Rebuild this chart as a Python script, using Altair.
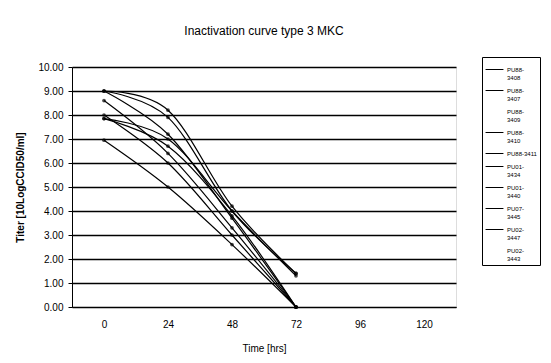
import altair as alt
import pandas as pd

times = [0, 24, 48, 72]
legend_names = ["PU88-3408", "PU88-3407", "PU88-3409", "PU88-3410", "PU88-3411",
                "PU01-3434", "PU01-3440", "PU07-3445", "PU02-3447", "PU02-3443"]
s3408 = [9.0, 7.9, 4.0, 1.4]
s3407 = [9.0, 7.2, 3.7, 0.0]
s3410 = [8.6, 6.4, 3.3, 0.0]
s3411 = [7.85, 7.0, 4.0, 1.3]
s3434 = [6.95, 5.0, 2.6, 0.0]
s3440 = [8.0, 6.0, 3.0, 0.0]
s3445 = [9.0, 8.2, 4.2, 1.4]
s3447 = [7.85, 6.7, 3.8, 0.0]

series = {
    "PU88-3408": s3408, "PU88-3407": s3407, "PU88-3410": s3410, "PU88-3411": s3411,
    "PU01-3434": s3434, "PU01-3440": s3440, "PU07-3445": s3445, "PU02-3447": s3447,
}
rows = []
for name, vals in series.items():
    for t, v in zip(times, vals):
        rows.append({"series": name, "time": t, "titer": v})
df = pd.DataFrame(rows)

colors = ["black" if n in series else "transparent" for n in legend_names]

x = alt.X("time:Q", scale=alt.Scale(domain=[-12, 132], nice=False, zero=False),
          axis=alt.Axis(values=[0, 24, 48, 72, 96, 120], title="Time [hrs]", grid=False,
                        ticks=False, labelFontSize=10, titleFontSize=10, titleFontWeight="normal",
                        labelPadding=12, titlePadding=14, domainColor="black"))
y = alt.Y("titer:Q", scale=alt.Scale(domain=[0, 10], nice=False),
          axis=alt.Axis(values=list(range(0, 11)), format=".2f", title="Titer [10LogCCID50/ml]",
                        grid=True, gridColor="black", gridWidth=1.5, gridOpacity=1,
                        tickSize=4, tickColor="black", labelFontSize=10, titleFontSize=10,
                        titleFontWeight="bold", labelPadding=5, titlePadding=12, domainColor="black"))

lines = alt.Chart(df).mark_line(interpolate="cardinal", strokeWidth=1.2).encode(
    x=x, y=y,
    color=alt.Color("series:N", scale=alt.Scale(domain=legend_names, range=colors),
                    legend=alt.Legend(title=None, orient="none", legendX=410, legendY=-10,
                                      symbolType="stroke", symbolSize=320, symbolStrokeWidth=1,
                                      labelFontSize=6, labelLimit=40, rowPadding=0,
                                      labelOffset=3,
                                      strokeColor="black", fillColor="white", padding=3,
                                      labelExpr="datum.label == 'PU88-3411' ? datum.label : [slice(datum.label, 0, 5), slice(datum.label, 5)]")),
)
points = alt.Chart(df).mark_point(filled=True, size=14, color="black").encode(
    x=x, y=y, detail="series:N")

chart = (lines + points).properties(
    width=384, height=240,
    title=alt.TitleParams("Inactivation curve type 3 MKC", fontSize=12, fontWeight="normal",
                          font="Liberation Sans", frame="group", offset=19, anchor="middle"),
    autosize=alt.AutoSizeParams(type="none"),
    padding={"left": 64, "top": 59, "right": 87, "bottom": 48},
).configure_view(fill="#a4a4a4", stroke="black", strokeWidth=1).configure(
    font="Liberation Sans"
).configure_axis(labelColor="black", titleColor="black")

chart.save("out.html", embed_options={"renderer": "svg", "actions": False})
